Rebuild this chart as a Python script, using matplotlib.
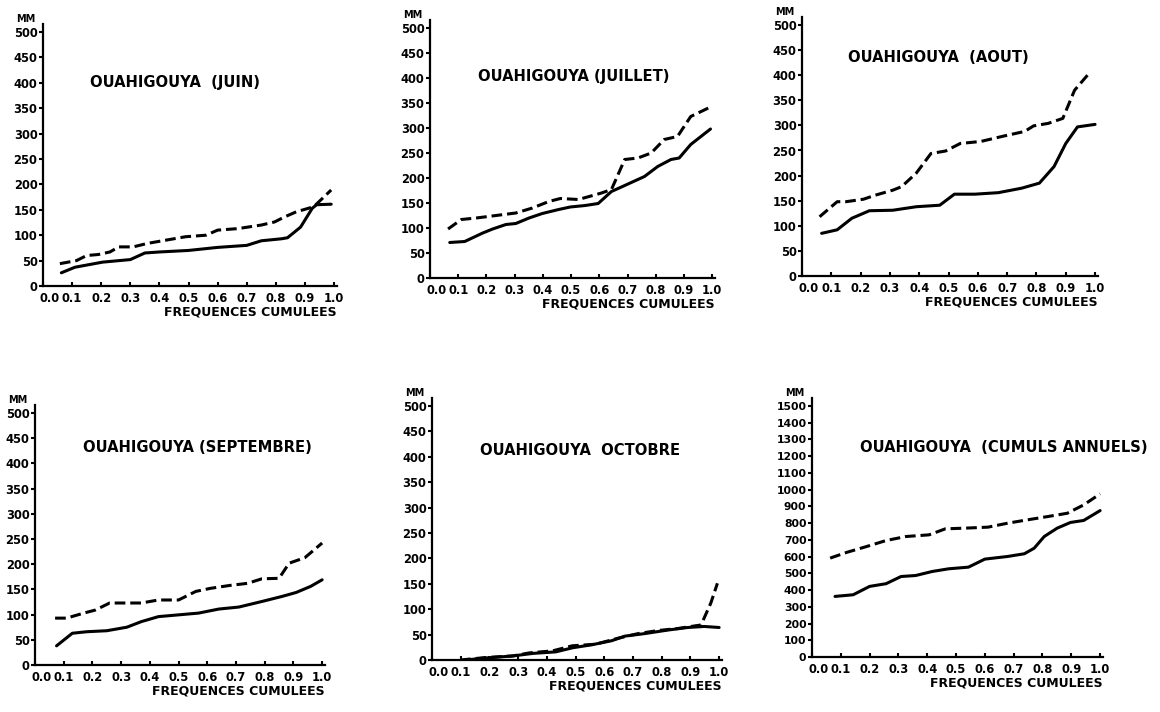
import matplotlib
matplotlib.use("Agg")
import matplotlib.pyplot as plt
import matplotlib.transforms as mtransforms
import numpy as np

# ---------------- data ----------------
freq_ticks = [0.0, 0.1, 0.2, 0.3, 0.4, 0.5, 0.6, 0.7, 0.8, 0.9, 1.0]
freq_tick_labels = ["0.0", "0.1", "0.2", "0.3", "0.4", "0.5", "0.6", "0.7", "0.8", "0.9", "1.0"]
mm_ticks_month = [0, 50, 100, 150, 200, 250, 300, 350, 400, 450, 500]
mm_ticks_year = [0, 100, 200, 300, 400, 500, 600, 700, 800, 900, 1000, 1100, 1200, 1300, 1400, 1500]

titles = ["OUAHIGOUYA  (JUIN)", "OUAHIGOUYA (JUILLET)", "OUAHIGOUYA  (AOUT)",
          "OUAHIGOUYA (SEPTEMBRE)", "OUAHIGOUYA  OCTOBRE", "OUAHIGOUYA  (CUMULS ANNUELS)"]
x_label = "FREQUENCES CUMULEES"
y_unit = "MM"

# JUIN
juin_freq_trait = [0.063, 0.11, 0.205, 0.30, 0.35, 0.40, 0.50, 0.60, 0.70, 0.75, 0.82, 0.84, 0.885, 0.925, 0.94, 0.99]
juin_mm_trait = [26, 37, 47, 52, 65, 67, 70, 76, 80, 89, 93, 95, 116, 153, 160, 161]
juin_freq_tirets = [0.058, 0.115, 0.15, 0.19, 0.23, 0.26, 0.31, 0.36, 0.42, 0.49, 0.56, 0.60, 0.67, 0.75, 0.795, 0.83, 0.87, 0.93, 0.99]
juin_mm_tirets = [44, 50, 60, 62, 67, 77, 77, 84, 90, 97, 100, 110, 113, 120, 126, 136, 146, 156, 189]

# JUILLET
juil_freq_trait = [0.07, 0.123, 0.187, 0.222, 0.269, 0.304, 0.351, 0.398, 0.456, 0.497, 0.55, 0.596, 0.643, 0.69, 0.76, 0.807, 0.854, 0.883, 0.924, 0.994]
juil_mm_trait = [71, 73, 90, 98, 107, 109, 120, 129, 137, 142, 145, 149, 173, 185, 203, 223, 237, 240, 267, 298]
juil_freq_tirets = [0.064, 0.111, 0.164, 0.234, 0.304, 0.363, 0.421, 0.462, 0.526, 0.608, 0.643, 0.69, 0.737, 0.784, 0.83, 0.877, 0.924, 0.994]
juil_mm_tirets = [98, 117, 120, 125, 130, 140, 153, 159, 157, 170, 177, 237, 240, 250, 277, 283, 323, 342]

# AOUT
aout_freq_trait = [0.067, 0.12, 0.17, 0.23, 0.31, 0.39, 0.47, 0.52, 0.59, 0.67, 0.75, 0.81, 0.86, 0.90, 0.94, 1.0]
aout_mm_trait = [85, 92, 115, 130, 131, 138, 141, 163, 163, 166, 175, 185, 218, 264, 297, 302]
aout_freq_tirets = [0.06, 0.12, 0.15, 0.21, 0.25, 0.31, 0.34, 0.39, 0.44, 0.49, 0.54, 0.61, 0.69, 0.76, 0.79, 0.84, 0.89, 0.93, 0.98]
aout_mm_tirets = [118, 148, 148, 153, 161, 171, 178, 205, 244, 249, 264, 268, 279, 288, 299, 304, 314, 370, 404]

# SEPTEMBRE
sept_freq_trait = [0.075, 0.13, 0.18, 0.25, 0.32, 0.37, 0.43, 0.49, 0.57, 0.64, 0.71, 0.79, 0.86, 0.91, 0.96, 1.0]
sept_mm_trait = [38, 63, 66, 68, 75, 86, 96, 99, 103, 111, 115, 126, 136, 144, 156, 169]
sept_freq_tirets = [0.07, 0.11, 0.17, 0.21, 0.26, 0.32, 0.37, 0.43, 0.50, 0.56, 0.61, 0.68, 0.74, 0.79, 0.85, 0.885, 0.94, 1.0]
sept_mm_tirets = [93, 93, 103, 109, 123, 123, 123, 129, 129, 146, 152, 158, 162, 171, 172, 202, 213, 242]

# OCTOBRE
oct_freq_trait = [0.12, 0.167, 0.282, 0.351, 0.431, 0.489, 0.557, 0.626, 0.672, 0.741, 0.822, 0.891, 0.948, 1.0]
oct_mm_trait = [0, 3, 8, 13, 16, 24, 30, 38, 47, 52, 59, 64, 66, 64]
oct_freq_tirets = [0.098, 0.19, 0.282, 0.339, 0.42, 0.489, 0.569, 0.649, 0.718, 0.787, 0.856, 0.937, 0.971, 0.994]
oct_mm_tirets = [0, 5, 8, 14, 18, 28, 31, 43, 52, 58, 62, 69, 112, 151]

# CUMULS ANNUELS
an_freq_trait = [0.08, 0.143, 0.2, 0.257, 0.309, 0.36, 0.417, 0.474, 0.543, 0.6, 0.68, 0.737, 0.771, 0.806, 0.851, 0.897, 0.943, 1.0]
an_mm_trait = [362, 372, 422, 438, 481, 487, 511, 527, 537, 585, 601, 617, 650, 720, 770, 804, 816, 875]
an_freq_tirets = [0.063, 0.12, 0.189, 0.257, 0.326, 0.406, 0.463, 0.531, 0.611, 0.68, 0.749, 0.817, 0.886, 0.943, 1.0]
an_mm_tirets = [591, 625, 660, 696, 720, 730, 766, 770, 776, 800, 820, 839, 859, 909, 975]

panels = [
    (juin_freq_trait, juin_mm_trait, juin_freq_tirets, juin_mm_tirets, mm_ticks_month),
    (juil_freq_trait, juil_mm_trait, juil_freq_tirets, juil_mm_tirets, mm_ticks_month),
    (aout_freq_trait, aout_mm_trait, aout_freq_tirets, aout_mm_tirets, mm_ticks_month),
    (sept_freq_trait, sept_mm_trait, sept_freq_tirets, sept_mm_tirets, mm_ticks_month),
    (oct_freq_trait, oct_mm_trait, oct_freq_tirets, oct_mm_tirets, mm_ticks_month),
    (an_freq_trait, an_mm_trait, an_freq_tirets, an_mm_tirets, mm_ticks_year),
]

# ---------------- layout (pixel boxes: left, right, y of 0, y of top tick) ----------------
W, H = 1160, 712
boxes = [(43, 337, 286, 32), (430, 715, 278, 28), (802, 1098, 276, 25),
         (35, 325, 665, 413), (432, 722, 660, 406), (812, 1103, 657, 406)]
title_pos = [(90, 82), (478, 77), (848, 58), (83, 448), (480, 450), (860, 448)]
over = 8  # pixels the y axis line extends above top tick

plt.rcParams['font.family'] = ['DejaVu Sans']
fig = plt.figure(figsize=(W / 100, H / 100), dpi=100)
fig.patch.set_facecolor("white")

for i, (fx_a, y_a, fx_b, y_b, yt) in enumerate(panels):
    L, R, y0, yt_px = boxes[i]
    ytop = yt_px - over
    ax = fig.add_axes([L / W, 1 - y0 / H, (R - L) / W, (y0 - ytop) / H])
    ymax = yt[-1]
    ax.set_ylim(0, ymax * (y0 - ytop) / (y0 - yt_px))
    ax.set_xlim(0, 1.01)
    ax.plot(fx_a, y_a, color="black", lw=2.2, solid_capstyle="round", solid_joinstyle="round")
    ax.plot(fx_b, y_b, color="black", lw=2.2, linestyle=(0, (3.5, 1.6)), dash_capstyle="butt")
    for s in ["top", "right"]:
        ax.spines[s].set_visible(False)
    for s in ["left", "bottom"]:
        ax.spines[s].set_linewidth(1.6)
    ax.set_xticks(freq_ticks)
    ax.set_xticklabels(freq_tick_labels, fontsize=8.3, fontweight="bold")
    ax.set_yticks(yt)
    ax.set_yticklabels([str(v) for v in yt], fontsize=8.3 if ymax <= 500 else 7.8, fontweight="bold")
    ax.tick_params(axis="x", direction="in", length=3, width=1.5, pad=4)
    ax.tick_params(axis="y", direction="out", length=3, width=1.5, pad=1)
    # shift the "0.0" label slightly right, as in the reference
    first = ax.get_xticklabels()[0]
    first.set_transform(first.get_transform() +
                        mtransforms.ScaledTranslation(7 / 100, 0, fig.dpi_scale_trans))
    ax.set_xlabel(x_label, loc="right", fontsize=9, fontweight="bold", labelpad=1)
    ax.set_facecolor("white")
    # unit label
    fig.text((L - 17) / W, 1 - (ytop - 5) / H, y_unit, fontsize=7, fontweight="bold",
             ha="center", va="center")
    tx, ty = title_pos[i]
    fig.text(tx / W, 1 - ty / H, titles[i], fontsize=10.6, fontweight="bold",
             ha="left", va="center")

fig.savefig("out.png", dpi=100, facecolor="white")
